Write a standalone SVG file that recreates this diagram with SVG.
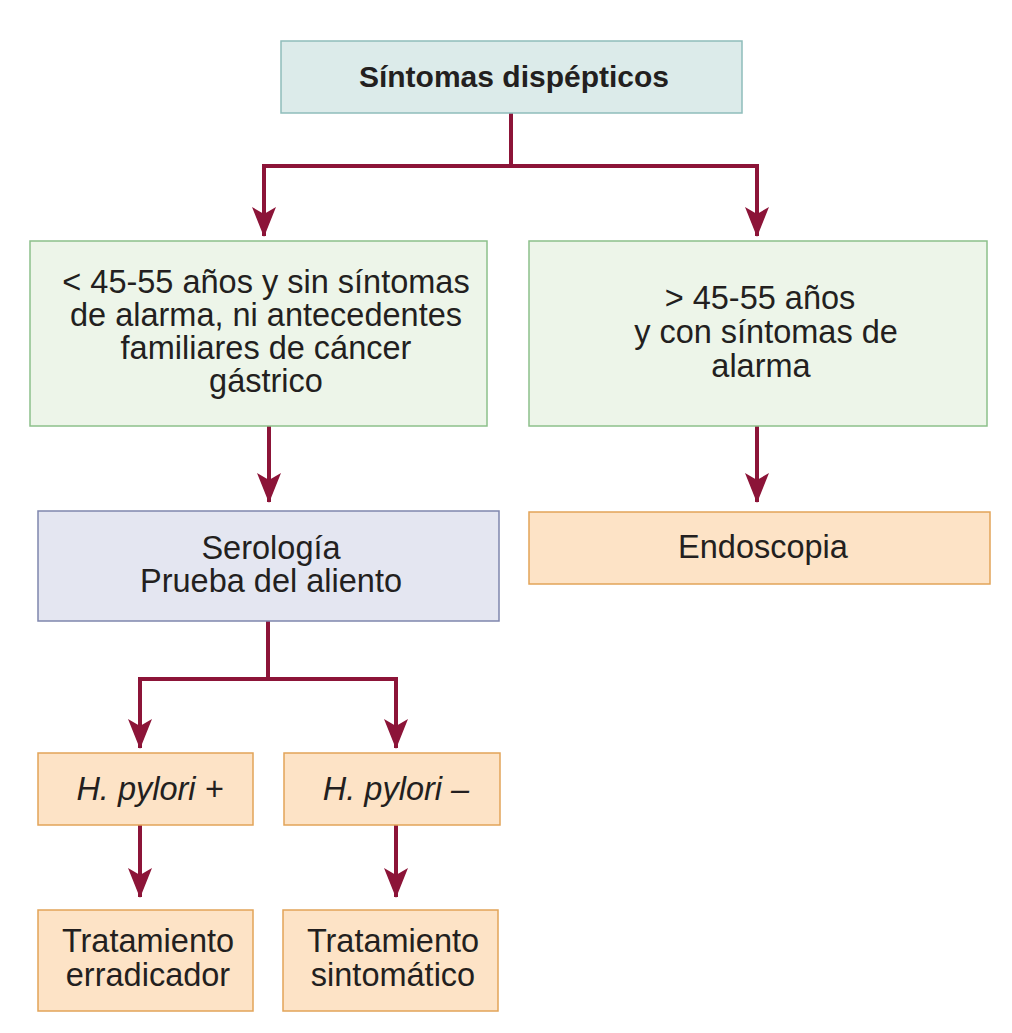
<svg xmlns="http://www.w3.org/2000/svg" width="1012" height="1033" viewBox="0 0 1012 1033">
<defs>
<marker id="ah" markerUnits="userSpaceOnUse" markerWidth="30" markerHeight="24" viewBox="0 0 30 24" refX="29" refY="12" orient="auto">
<path d="M0,0 L7,12 L0,24 L30,12 Z" fill="#8c1438"/>
</marker>
</defs>
<style>
.t{font-family:"Liberation Sans",Arial,sans-serif;font-size:32.5px;fill:#231f20;text-anchor:middle}
.b{font-weight:bold;font-size:30px}
.i{font-style:italic}
.teal{fill:#dcebea;stroke:#8fbdbb;stroke-width:1.5}
.green{fill:#edf5e9;stroke:#8cc08a;stroke-width:1.5}
.blue{fill:#e4e6f1;stroke:#7f86ad;stroke-width:1.5}
.orange{fill:#fde3c6;stroke:#e2a458;stroke-width:1.5}
.c{fill:none;stroke:#8c1438;stroke-width:4}
</style>
<rect width="1012" height="1033" fill="#ffffff"/>
<g id="connectors">
<path class="c" d="M511,113 V166 M262,166 H759"/>
<path class="c" d="M264,166 V236" marker-end="url(#ah)"/>
<path class="c" d="M757,166 V236" marker-end="url(#ah)"/>
<path class="c" d="M269,426 V502" marker-end="url(#ah)"/>
<path class="c" d="M757,426 V502" marker-end="url(#ah)"/>
<path class="c" d="M268,621 V679 M138,679 H398"/>
<path class="c" d="M140,679 V748" marker-end="url(#ah)"/>
<path class="c" d="M396,679 V748" marker-end="url(#ah)"/>
<path class="c" d="M140,825 V897" marker-end="url(#ah)"/>
<path class="c" d="M396,825 V897" marker-end="url(#ah)"/>
</g>
<g id="n1">
<rect class="teal" x="281" y="41" width="461" height="72"/>
<text class="t b" x="514" y="87">Síntomas dispépticos</text>
</g>
<g id="n2">
<rect class="green" x="30" y="241" width="457" height="185"/>
<text class="t" x="266" y="293">&lt; 45-55 años y sin síntomas</text>
<text class="t" x="266" y="326">de alarma, ni antecedentes</text>
<text class="t" x="266" y="359">familiares de cáncer</text>
<text class="t" x="266" y="392">gástrico</text>
</g>
<g id="n3">
<rect class="green" x="529" y="241" width="458" height="185"/>
<text class="t" x="760" y="309">&gt; 45-55 años</text>
<text class="t" x="766" y="343">y con síntomas de</text>
<text class="t" x="761" y="377">alarma</text>
</g>
<g id="n4">
<rect class="blue" x="38" y="511" width="461" height="110"/>
<text class="t" x="271" y="559">Serología</text>
<text class="t" x="271" y="592">Prueba del aliento</text>
</g>
<g id="n5">
<rect class="orange" x="529" y="512" width="461" height="72"/>
<text class="t" x="763" y="558">Endoscopia</text>
</g>
<g id="n6">
<rect class="orange" x="38" y="753" width="215" height="72"/>
<text class="t i" x="150" y="800">H. pylori +</text>
</g>
<g id="n7">
<rect class="orange" x="284" y="753" width="216" height="72"/>
<text class="t i" x="396" y="800">H. pylori –</text>
</g>
<g id="n8">
<rect class="orange" x="38" y="910" width="215" height="101"/>
<text class="t" x="148" y="952">Tratamiento</text>
<text class="t" x="148" y="986">erradicador</text>
</g>
<g id="n9">
<rect class="orange" x="283" y="910" width="215" height="101"/>
<text class="t" x="393" y="952">Tratamiento</text>
<text class="t" x="393" y="986">sintomático</text>
</g>
</svg>
